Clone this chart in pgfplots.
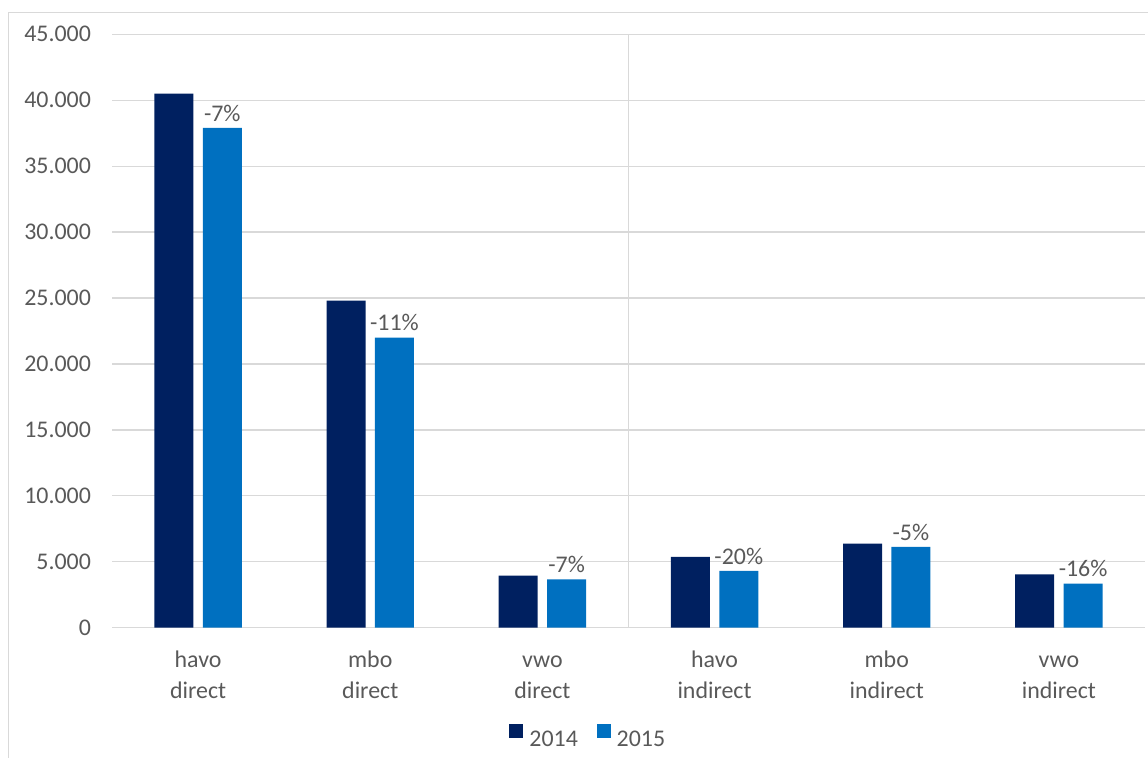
\documentclass[border=0pt]{standalone}
\usepackage{fontspec}
\setmainfont{Carlito}
\usepackage{pgfplots}
\usepackage{pgfplotstable}
\pgfplotsset{compat=1.18}
\definecolor{c2014}{HTML}{002060}
\definecolor{c2015}{HTML}{0070C0}
\definecolor{txt}{HTML}{595959}
\definecolor{grd}{HTML}{D9D9D9}
\pgfplotstableread{
x a b lab
0 40500 37900 -7
1 24800 22000 -11
2 3950 3670 -7
3 5380 4300 -20
4 6370 6120 -5
5 4050 3340 -16
}\data
\begin{document}
\begin{tikzpicture}
\path[use as bounding box] (0,0) rectangle (1148bp,758bp);
\draw[grd, line width=1.3bp] (8.3bp,-2bp) -- (8.3bp,745.7bp) -- (1150bp,745.7bp);
\begin{axis}[
  at={(112bp,130.3bp)}, anchor=south west,
  scale only axis, width=1033bp, height=593.4bp,
  ybar=9.4bp, bar width=39bp,
  xmin=-0.5, xmax=5.5, ymin=0, ymax=45000,
  xtick={0,...,5},
  xticklabels={{havo\\direct},{mbo\\direct},{\vphantom{h}vwo\\direct},{havo\\indirect},{mbo\\indirect},{\vphantom{h}vwo\\indirect}},
  ytick={0,5000,...,45000},
  scaled y ticks=false,
  /pgf/number format/1000 sep={.},
  /pgf/number format/assume math mode=true,
  ymajorgrids,
  major grid style={grd, line width=1.3bp},
  extra x ticks={2.5},
  extra x tick labels={},
  extra x tick style={grid=major, major grid style={grd, line width=1.3bp}},
  axis line style={draw=none},
  major tick length=0pt,
  tick label style={font=\fontsize{24}{31}\selectfont, text=txt},
  yticklabel style={xshift=-17.5bp},
  xticklabel style={align=center, yshift=-20bp},
  clip=false,
  legend columns=2,
  legend style={at={(0.3846,-0.1825)}, anchor=west, draw=none, fill=none,
    inner sep=0pt, font=\fontsize{24}{31}\selectfont, text=txt,
    nodes={inner sep=0pt},
    /tikz/every odd column/.append style={column sep=6bp},
    /tikz/every even column/.append style={column sep=18.7bp}},
  legend image code/.code={\fill[#1] (0bp,0.6bp) rectangle (14bp,14.6bp);},
]
\addplot[fill=c2014, draw=none] table[x=x, y=a] {\data};
\addlegendentry{2014}
\addplot[fill=c2015, draw=none,
  point meta=explicit symbolic,
  nodes near coords={\pgfplotspointmeta\%},
  every node near coord/.append style={font=\fontsize{24}{31}\selectfont, text=txt, yshift=3bp}]
  table[x=x, y=b, meta=lab] {\data};
\addlegendentry{2015}
\end{axis}
\end{tikzpicture}
\end{document}
